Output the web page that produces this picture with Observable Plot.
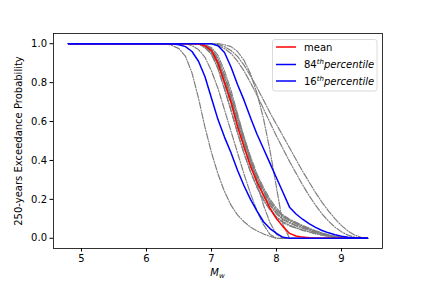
<!DOCTYPE html>
<html>
<head>
<meta charset="utf-8">
<script src="https://cdn.jsdelivr.net/npm/d3@7"></script>
<script src="https://cdn.jsdelivr.net/npm/@observablehq/plot@0.6"></script>
<style>
  html, body { margin: 0; padding: 0; background: #fff; }
  #chart svg { font-family: "DejaVu Sans", sans-serif; }
</style>
</head>
<body>
<div id="chart"></div>
<script>
// Magnitude grid (Mw)
const mw = [4.8, 6.2, 6.3, 6.4, 6.5, 6.6, 6.7, 6.8, 6.9, 7.0, 7.1, 7.2, 7.3, 7.4, 7.5, 7.6, 7.7, 7.8, 7.9,
            8.0, 8.1, 8.2, 8.3, 8.4, 8.5, 8.6, 8.7, 8.8, 8.9, 9.0, 9.1, 9.2, 9.3, 9.4];

// Summary curves
const meanP = [1, 1,1,1,1,1,1,1, 0.99,0.965,0.90,0.80,0.70,0.575,0.47,0.37,0.29,0.22,0.155,0.10,0.06,0.025,0.012,0.006,0.003,0.001, 0,0,0,0,0,0,0,0];
const p84 = [1, 1,1,1,1,1,1,1,1,1, 0.99,0.955,0.88,0.79,0.71,0.62,0.535,0.46,0.385,0.31,0.235,0.16,0.125,0.098,0.075,0.056,0.04,0.028,0.018,0.01,0.005,0.002,0.001,0];
const p16 = [1, 1,1,1,0.995,0.985,0.96,0.91,0.83,0.72,0.61,0.52,0.44,0.35,0.27,0.20,0.14,0.085,0.05,0.025,0.005, 0,0,0,0,0,0,0,0,0,0,0,0,0];

// Individual branch curves (grey dash-dot)
const g1 = [1, 1,1,0.99,0.975,0.935,0.85,0.72,0.57,0.44,0.33,0.24,0.17,0.12,0.085,0.058,0.038,0.022,0.01, 0,0,0,0,0,0,0,0,0,0,0,0,0,0,0];
const g2 = [1, 1,1,1,1,1,1,1,1,1, 0.995,0.985,0.965,0.935,0.89,0.835,0.775,0.71,0.645,0.585,0.525,0.465,0.405,0.345,0.29,0.235,0.185,0.14,0.10,0.065,0.037,0.017,0.005,0];
const g3 = [1, 1,1,1,1,1,1,1,1,1, 0.99,0.975,0.95,0.91,0.86,0.80,0.735,0.665,0.595,0.525,0.46,0.395,0.335,0.275,0.22,0.17,0.125,0.088,0.057,0.033,0.016,0.006,0.001,0];
const t1 = [1, 1,1,1,1,1, 0.99,0.97,0.93,0.86,0.77,0.66,0.55,0.44,0.33,0.23,0.14,0.07,0.02, 0,0,0,0,0,0,0,0,0,0,0,0,0,0,0];
const t2 = [1, 1,1,1,1,1,1,1, 0.995,0.98,0.94,0.86,0.76,0.64,0.52,0.40,0.28,0.17,0.08,0.02, 0,0,0,0,0,0,0,0,0,0,0,0,0,0];
const t3 = [1, 1,1,1,1,1,1,1,1,1,1, 0.995,0.985,0.96,0.915,0.845,0.745,0.615,0.45,0.26,0.07, 0,0,0,0,0,0,0,0,0,0,0,0,0];
const b1 = [1, 1,1,1,1,1,1,1, 0.99,0.97,0.91,0.82,0.72,0.605,0.50,0.40,0.315,0.245,0.185,0.14,0.11,0.09,0.075,0.06,0.047,0.035,0.025,0.016,0.009,0.004,0.001, 0,0,0];
const b2 = [1, 1,1,1,1,1,1,1, 0.985,0.96,0.90,0.81,0.71,0.595,0.49,0.39,0.305,0.235,0.175,0.13,0.10,0.082,0.068,0.055,0.043,0.032,0.022,0.014,0.008,0.003,0.001, 0,0,0];
const b3 = [1, 1,1,1,1,1,1,1, 0.99,0.975,0.925,0.84,0.74,0.625,0.52,0.42,0.33,0.26,0.20,0.155,0.12,0.098,0.082,0.066,0.052,0.039,0.028,0.018,0.01,0.005,0.002, 0,0,0];
const b4 = [1, 1,1,1,1,1,1,1, 0.985,0.955,0.89,0.795,0.69,0.575,0.47,0.375,0.29,0.225,0.17,0.125,0.095,0.078,0.064,0.052,0.04,0.03,0.021,0.013,0.007,0.003,0.001, 0,0,0];
const b5 = [1, 1,1,1,1,1,1,1, 0.98,0.95,0.875,0.77,0.66,0.545,0.44,0.345,0.265,0.20,0.15,0.11,0.085,0.068,0.055,0.044,0.034,0.025,0.017,0.01,0.005,0.002, 0,0,0,0];
const b6 = [1, 1,1,1,1,1,1,1, 0.99,0.97,0.915,0.83,0.73,0.615,0.51,0.41,0.32,0.25,0.19,0.145,0.115,0.094,0.078,0.063,0.05,0.037,0.026,0.017,0.01,0.005,0.002, 0,0,0];
const b7 = [1, 1,1,1,1,1,1,1, 0.98,0.945,0.87,0.765,0.655,0.54,0.435,0.34,0.26,0.195,0.145,0.105,0.08,0.064,0.052,0.041,0.032,0.023,0.016,0.009,0.005,0.002, 0,0,0,0];

const greyCurves = [g1, g2, g3, t1, t2, t3, b1, b2, b3, b4, b5, b6, b7];

const xTicks = [5, 6, 7, 8, 9];
const yTicks = [0, 0.2, 0.4, 0.6, 0.8, 1.0];

const toRows = (arr, name) => mw.map((m, i) => ({m, p: arr[i], name}));
const greyRows = greyCurves.flatMap((arr, k) => toRows(arr, "g" + k));

const W = 425, H = 284;
const plot = Plot.plot({
  width: W,
  height: H,
  marginLeft: 53,
  marginRight: 43,
  marginTop: 33,
  marginBottom: 36,
  style: {fontFamily: "DejaVu Sans, sans-serif", fontSize: "10px", color: "#000", background: "#fff"},
  x: {domain: [4.57, 9.63], ticks: xTicks, tickFormat: d3.format("d"), label: null, tickSize: 3.5, tickPadding: 3},
  y: {domain: [-0.0525, 1.0525], ticks: yTicks, tickFormat: d3.format(".1f"), label: null, tickSize: 3.5, tickPadding: 3},
  marks: [
    Plot.line(greyRows, {x: "m", y: "p", z: "name", stroke: "#7f7f7f", strokeWidth: 1.2, strokeDasharray: "6.4,1.6,1,1.6"}),
    Plot.line(toRows(meanP, "mean"), {x: "m", y: "p", stroke: "#ff0000", strokeWidth: 1.5}),
    Plot.line(toRows(p84, "p84"), {x: "m", y: "p", stroke: "#0000ff", strokeWidth: 1.5}),
    Plot.line(toRows(p16, "p16"), {x: "m", y: "p", stroke: "#0000ff", strokeWidth: 1.5}),
    Plot.frame({stroke: "#000", strokeWidth: 0.8})
  ]
});

const svg = d3.select(plot);

// Axis labels
svg.append("text")
  .attr("transform", "translate(22,141) rotate(-90)")
  .attr("text-anchor", "middle")
  .attr("font-size", 10)
  .attr("fill", "#000")
  .text("250-years Exceedance Probability");

const xl = svg.append("text")
  .attr("x", 217.5).attr("y", 276)
  .attr("text-anchor", "middle")
  .attr("font-size", 10)
  .attr("fill", "#000")
  .attr("font-style", "italic");
xl.append("tspan").text("M");
xl.append("tspan").attr("font-size", 7).attr("dy", 2).text("w");

// Legend
const lg = svg.append("g").attr("text-anchor", "start");
lg.append("rect")
  .attr("x", 272.5).attr("y", 39.5).attr("width", 104.5).attr("height", 51.5)
  .attr("rx", 2.5).attr("fill", "#fff").attr("fill-opacity", 0.85)
  .attr("stroke", "#d0d0d0").attr("stroke-width", 0.8);

const legendItems = [
  {color: "#ff0000", num: null, text: "mean", y: 47},
  {color: "#0000ff", num: "84", text: "percentile", y: 64.5},
  {color: "#0000ff", num: "16", text: "percentile", y: 81}
];
legendItems.forEach(it => {
  lg.append("line")
    .attr("x1", 276).attr("x2", 296).attr("y1", it.y).attr("y2", it.y)
    .attr("stroke", it.color).attr("stroke-width", 1.5);
  const t = lg.append("text")
    .attr("x", 304).attr("y", it.y + 3.6)
    .attr("text-anchor", "start")
    .attr("font-size", 10).attr("fill", "#000");
  if (it.num === null) {
    t.text(it.text);
  } else {
    t.append("tspan").text(it.num);
    t.append("tspan").attr("font-size", 7).attr("font-style", "italic").attr("dy", -4).text("th");
    t.append("tspan").attr("font-style", "italic").attr("dy", 4).text(it.text);
  }
});

document.getElementById("chart").appendChild(plot);
</script>
</body>
</html>
